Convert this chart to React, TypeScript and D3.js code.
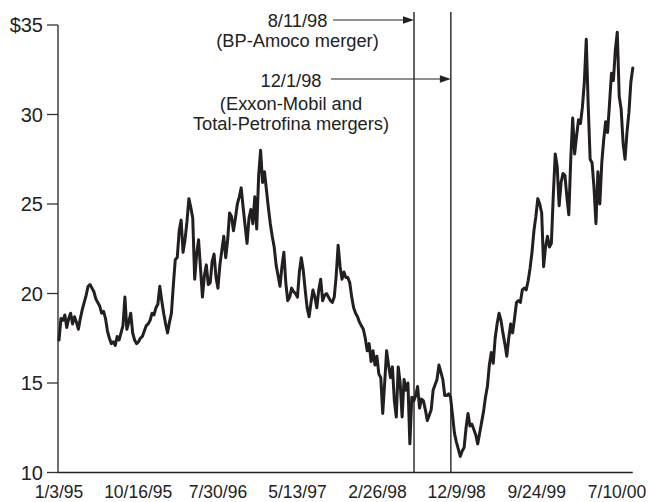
import React from "react";
import * as d3 from "d3";

// ---- data ----
const seriesStart = "1995-01-03"; // first weekly observation
const prices: number[] = [
  17.4, 18.6, 18.5, 18.8, 18.1, 18.6, 18.9, 18.3, 18.7, 18.4,
  18.0, 18.6, 19.1, 19.5, 19.9, 20.4, 20.5, 20.3, 20.1, 19.7,
  19.5, 19.3, 18.9, 19.0, 18.6, 17.9, 17.5, 17.2, 17.3, 17.1,
  17.6, 17.4, 17.8, 18.2, 19.8, 18.0, 18.4, 18.9, 17.8, 17.4,
  17.2, 17.3, 17.5, 17.6, 17.9, 18.2, 18.3, 18.5, 18.9, 18.8,
  19.2, 19.4, 20.4, 19.6, 18.9, 18.3, 17.8, 18.4, 18.9, 20.5,
  21.9, 22.0, 23.5, 24.1, 22.3, 23.0, 24.0, 25.3, 24.8, 24.2,
  20.8, 22.2, 23.0, 21.4, 19.8, 21.0, 21.6, 20.5, 20.6, 21.8,
  22.2, 20.9, 20.3, 21.6, 22.4, 23.2, 22.0, 23.0, 24.5, 24.3,
  23.5, 24.2, 25.0, 25.4, 25.9, 24.8, 23.8, 22.8, 24.2, 24.7,
  23.9, 25.4, 23.6, 26.6, 28.0, 26.2, 26.8, 25.8, 24.8, 23.9,
  23.2, 22.6, 21.6, 21.0, 20.4, 21.5, 22.3, 20.6, 19.6, 19.8,
  20.3, 20.1, 20.0, 19.8, 21.2, 22.0, 21.3, 20.2, 19.2, 18.7,
  19.5, 20.2, 19.8, 19.2, 20.2, 20.8, 19.6, 19.9, 20.0, 19.8,
  19.6, 19.5, 19.8, 21.0, 22.7, 21.5, 20.8, 21.2, 20.9, 20.9,
  20.6, 19.8, 19.2, 18.9, 18.7, 18.4, 18.2, 18.0, 17.5, 16.8,
  17.2, 16.2, 16.8, 16.0, 16.5, 15.5, 15.3, 13.3, 15.0, 16.8,
  16.0, 15.3, 15.9, 14.0, 13.1, 15.9, 15.0, 13.1, 15.2, 14.6,
  15.0, 11.6, 14.2, 14.0, 14.3, 14.8, 13.6, 14.1, 14.0, 13.5,
  12.9, 13.2, 13.5, 14.6, 14.9, 15.2, 16.0, 15.6, 15.2, 14.3,
  14.3, 14.4, 14.2, 13.2, 12.2, 11.7, 11.3, 10.9, 11.2, 11.4,
  12.5, 13.3, 12.6, 12.7, 12.4, 12.1, 11.6, 12.2, 12.8, 13.4,
  14.2, 14.8, 16.0, 16.7, 16.1, 17.5, 18.3, 18.9, 18.5, 17.8,
  17.2, 16.5, 17.5, 18.3, 17.8, 18.6, 19.5, 19.6, 19.5, 20.2,
  20.3, 20.2, 20.7, 21.4, 22.3, 23.5, 24.3, 25.3, 25.0, 24.5,
  21.5, 22.6, 23.2, 22.6, 22.8, 25.5, 27.8, 27.1, 24.9, 26.2,
  26.7, 26.6, 25.4, 24.4, 27.5, 29.8, 27.8, 28.8, 29.7, 29.5,
  30.4, 31.8, 34.2, 30.5, 27.5, 27.3, 25.9, 23.9, 26.8, 25.0,
  27.3, 28.6, 29.6, 29.0, 30.6, 32.3, 31.9, 33.6, 34.6, 31.0,
  30.3, 28.4, 27.5, 29.0, 30.1, 31.8, 32.6,
];
const xTickLabels = ["1/3/95", "10/16/95", "7/30/96", "5/13/97", "2/26/98", "12/9/98", "9/24/99", "7/10/00"];
const yTickValues = [10, 15, 20, 25, 30, 35];
const eventDates = ["1998-07-08", "1998-11-18"];
const eventLabels = ["8/11/98", "12/1/98"];
const eventNotes = [["(BP-Amoco merger)"], ["(Exxon-Mobil and", "Total-Petrofina mergers)"]];

const W = 650;
const H = 502;
const FONT = "'Liberation Sans', Arial, Helvetica, sans-serif";

export default function App() {
  const parseIso = d3.timeParse("%Y-%m-%d");
  const parseTick = d3.timeParse("%m/%d/%y");
  const start = parseIso(seriesStart) as Date;
  const tickDates = xTickLabels.map((s) => parseTick(s) as Date);

  const x = d3
    .scaleTime()
    .domain([tickDates[0], tickDates[tickDates.length - 1]])
    .range([59, 617]);
  const y = d3.scaleLinear().domain([10, 35]).range([472.5, 25]);

  const points = prices.map((v, i) => ({ date: d3.timeWeek.offset(start, i), value: v }));
  const line = d3
    .line<{ date: Date; value: number }>()
    .x((d) => x(d.date))
    .y((d) => y(d.value));

  const axisLeft = 58;
  const axisRight = x(points[points.length - 1].date);

  // annotation layout (positions only)
  const ann = [
    { cx: 297.5, labelY: 27, arrowY: 20, arrowX0: 333, noteY: [47] },
    { cx: 291, labelY: 86.5, arrowY: 79, arrowX0: 331, noteY: [109.5, 130] },
  ];

  return (
    <svg
      width={W}
      height={H}
      viewBox={`0 0 ${W} ${H}`}
      style={{ position: "absolute", left: 0, top: 0, display: "block", background: "#fff" }}
    >
      <rect x={0} y={0} width={W} height={H} fill="#fff" />
      {/* axes */}
      <line x1={axisLeft} x2={axisLeft} y1={y(35)} y2={y(10)} stroke="#333" strokeWidth={1.4} />
      <line x1={axisLeft} x2={axisRight} y1={y(10)} y2={y(10)} stroke="#222" strokeWidth={1.6} />
      {yTickValues.map((t) => (
        <g key={t}>
          <line x1={47} x2={axisLeft} y1={y(t)} y2={y(t)} stroke="#333" strokeWidth={1.3} />
          <text
            x={43}
            y={y(t)}
            dy="0.35em"
            textAnchor="end"
            fontFamily={FONT}
            fontSize={20}
            fill="#222"
          >
            {t === 35 ? "$35" : String(t)}
          </text>
        </g>
      ))}
      {tickDates.map((d, i) => (
        <text
          key={xTickLabels[i]}
          x={x(d)}
          y={497.5}
          textAnchor="middle"
          fontFamily={FONT}
          fontSize={17.5}
          fill="#222"
        >
          {xTickLabels[i]}
        </text>
      ))}

      {/* event lines */}
      {eventDates.map((ds, i) => {
        const ex = x(parseIso(ds) as Date);
        const a = ann[i];
        return (
          <g key={ds}>
            <line x1={ex} x2={ex} y1={12} y2={y(10)} stroke="#222" strokeWidth={1.4} />
            <line x1={a.arrowX0} x2={ex - 8} y1={a.arrowY} y2={a.arrowY} stroke="#222" strokeWidth={1.2} />
            <path
              d={`M${ex},${a.arrowY} L${ex - 11},${a.arrowY - 3.8} L${ex - 11},${a.arrowY + 3.8} Z`}
              fill="#222"
            />
            <text
              x={a.cx}
              y={a.labelY}
              textAnchor="middle"
              fontFamily={FONT}
              fontSize={18.3}
              fill="#222"
            >
              {eventLabels[i]}
            </text>
            {eventNotes[i].map((n, j) => (
              <text
                key={n}
                x={a.cx}
                y={a.noteY[j]}
                textAnchor="middle"
                fontFamily={FONT}
                fontSize={18.3}
                fill="#222"
              >
                {n}
              </text>
            ))}
          </g>
        );
      })}

      {/* price line */}
      <path
        d={line(points) || ""}
        fill="none"
        stroke="#231f20"
        strokeWidth={3}
        strokeLinejoin="round"
        strokeLinecap="round"
      />
    </svg>
  );
}
